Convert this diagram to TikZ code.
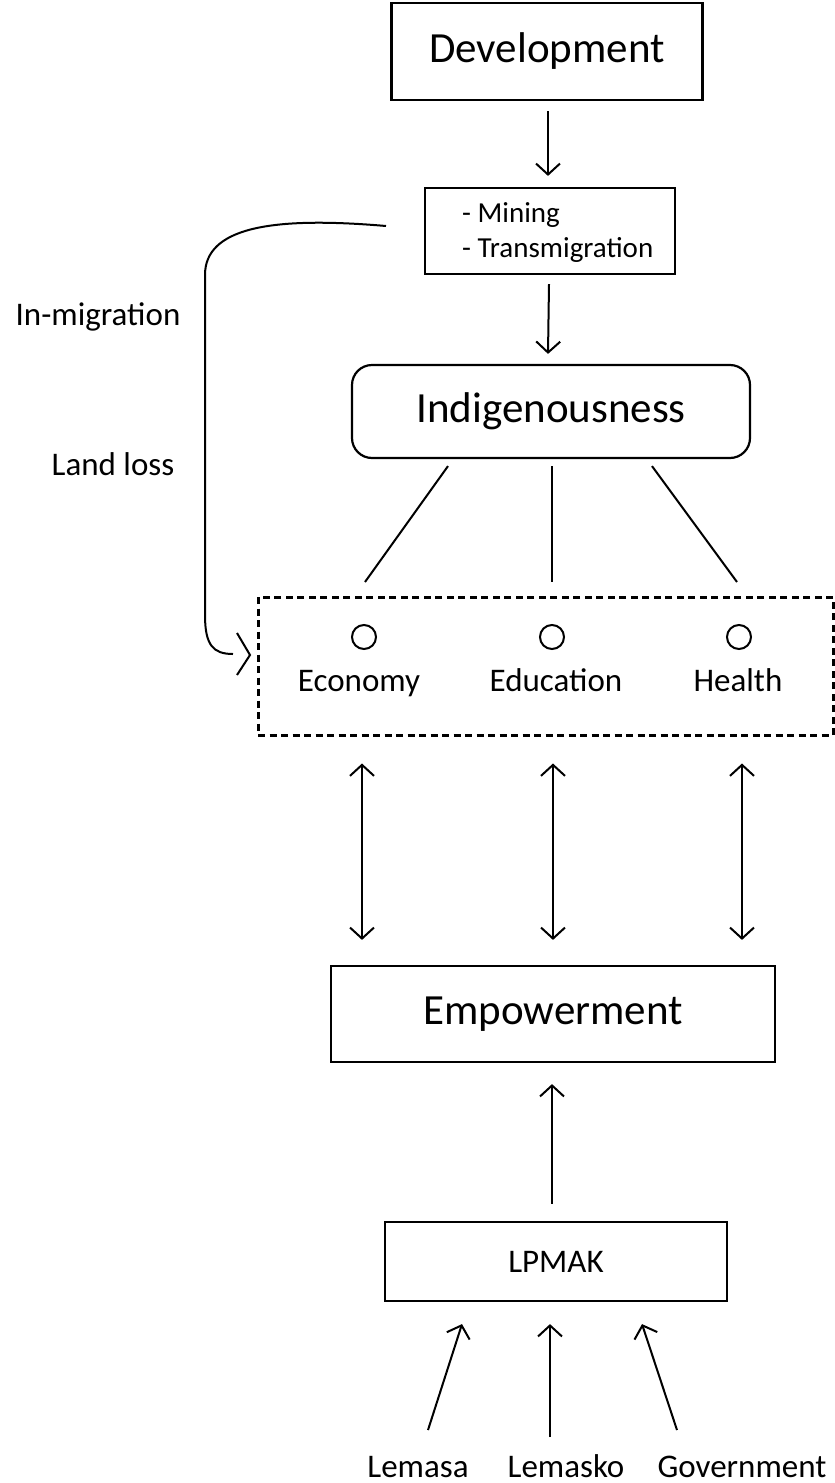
\documentclass[tikz,border=0pt]{standalone}
\usepackage{fontspec}
\setmainfont{Carlito}
\usetikzlibrary{arrows.meta,calc}
\begin{document}
\begin{tikzpicture}[x=1pt,y=-1pt,
  box/.style={draw,line width=2.2pt,inner sep=0pt},
  big/.style={font=\fontsize{43}{50}\selectfont},
  mid/.style={font=\fontsize{33}{40}\selectfont},
  small/.style={font=\fontsize{29}{35}\selectfont},
  tip/.tip={Straight Barb[length=11pt,width=24pt]},
  conn/.style={line width=2pt,-tip},
  dconn/.style={line width=2pt,tip-tip},
  plain/.style={line width=2pt},
]
\useasboundingbox (0,0) rectangle (835,1483);
\fill[white] (0,0) rectangle (835,1483);

% boxes
\node[box,big,minimum width=311pt,minimum height=97pt] (dev) at (547,51.5) {Development};
\node[box,minimum width=250pt,minimum height=86pt] (min) at (550,231) {};
\node[small,align=left,anchor=west,inner sep=0pt] (mint) at (462,233) {- Mining\\- Transmigration};
\node[box,big,rounded corners=20pt,minimum width=398pt,minimum height=93pt] (ind) at (551,411.5) {Indigenousness};
\node[draw,line width=3pt,dash pattern=on 7pt off 4.5pt,minimum width=575pt,minimum height=138pt,inner sep=0pt] (dbox) at (545.5,666) {};
\node[box,big,minimum width=444pt,minimum height=96pt] (emp) at (553,1014) {Empowerment};
\node[box,mid,minimum width=342pt,minimum height=79pt] (lp) at (556,1261.5) {LPMAK};

% circles and labels
\node[circle,draw,line width=2pt,minimum size=24pt,inner sep=0pt] (c1) at (364,637) {};
\node[circle,draw,line width=2pt,minimum size=24pt,inner sep=0pt] (c2) at (552,637) {};
\node[circle,draw,line width=2pt,minimum size=24pt,inner sep=0pt] (c3) at (739,637) {};
\node[mid,anchor=base] (econ) at (359,691) {Economy};
\node[mid,anchor=base] (educ) at (556,691) {Education};
\node[mid,anchor=base] (heal) at (738,691) {Health};

% side labels
\node[mid,anchor=base] (inmig) at (98,325) {In-migration};
\node[mid,anchor=base] (land) at (113,475) {Land loss};

% bottom labels
\node[mid,anchor=base] (lemasa) at (418,1477) {Lemasa};
\node[mid,anchor=base] (lemasko) at (566,1477) {Lemasko};
\node[mid,anchor=base] (gov) at (742,1477) {Government};

% connectors
\draw[conn] ($(dev.south)+(1,10)$) -- ($(min.north)+(-2,-11)$);
\draw[conn] ($(min.south)+(-1,9)$) -- ($(ind.north)+(-3,-10)$);

\draw[plain] ($(ind.south)+(-103,7)$) -- ($(c1.north)+(1,-42)$);
\draw[plain] ($(ind.south)+(1,7)$) -- ($(c2.north)+(0,-42)$);
\draw[plain] ($(ind.south)+(101,7)$) -- ($(c3.north)+(-2,-42)$);

\draw[dconn] ($(c1|-dbox.south)+(-2,27)$) -- ($(c1|-emp.north)+(-2,-25)$);
\draw[dconn] ($(c2|-dbox.south)+(1,27)$) -- ($(c2|-emp.north)+(1,-25)$);
\draw[dconn] ($(c3|-dbox.south)+(3,27)$) -- ($(c3|-emp.north)+(3,-25)$);

\draw[conn] ($(lp.north)+(-4,-17)$) -- ($(emp.south)+(-1,21)$);

\draw[conn] ($(lemasa.base)+(10,-47)$) -- ($(lp.south)+(-94,22)$);
\draw[conn] ($(lemasko.base)+(-16,-40)$) -- ($(lp.south)+(-6,22)$);
\draw[conn] ($(gov.base)+(-65,-47)$) -- ($(lp.south)+(86,22)$);

% in-migration / land loss curve
\coordinate (cs) at (386,226);
\coordinate (ce) at (233,654);
\draw[plain] (cs) .. controls (270,216) and (205,228) .. (205,275) -- (205,615) .. controls (205,645) and (213,654) .. (ce);
\draw[plain,line join=miter] (237,633) -- (250,655) -- (237,675);
\end{tikzpicture}
\end{document}
